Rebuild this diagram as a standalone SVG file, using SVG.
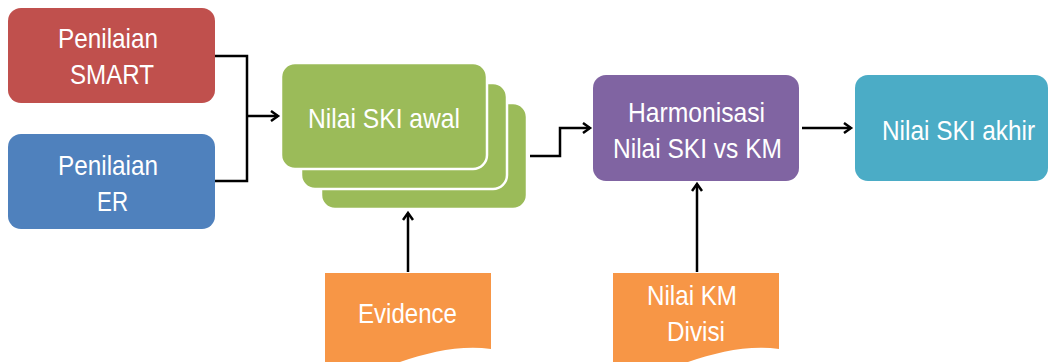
<svg xmlns="http://www.w3.org/2000/svg" width="1050" height="362" viewBox="0 0 1050 362">
<defs>
<style>
.t{font-family:"Liberation Sans",Arial,sans-serif;font-size:28px;fill:#fff;text-anchor:middle}
.c{fill:none;stroke:#000;stroke-width:2.5}
.g{fill:#9BBB59;stroke:#fff;stroke-width:2.5}
.o{fill:#F79646}
</style>
<marker id="ah" markerWidth="12" markerHeight="12" refX="9" refY="6" orient="auto" markerUnits="userSpaceOnUse">
<path d="M2,1 L9,6 L2,11" fill="none" stroke="#000" stroke-width="2.5"/>
</marker>
</defs>
<rect width="1050" height="362" fill="#fff"/>
<g id="smart">
<rect x="8" y="8" width="207" height="95" rx="13" fill="#C0504D"/>
<text class="t" x="108" y="48" textLength="100" lengthAdjust="spacingAndGlyphs">Penilaian</text>
<text class="t" x="112" y="84" textLength="84" lengthAdjust="spacingAndGlyphs">SMART</text>
</g>
<g id="er">
<rect x="8" y="134" width="207" height="95" rx="13" fill="#4F81BD"/>
<text class="t" x="108" y="175" textLength="100" lengthAdjust="spacingAndGlyphs">Penilaian</text>
<text class="t" x="112.5" y="211" textLength="31" lengthAdjust="spacingAndGlyphs">ER</text>
</g>
<g id="ski-awal">
<rect class="g" x="321" y="103" width="206" height="106" rx="14"/>
<rect class="g" x="301" y="83" width="206" height="106" rx="14"/>
<rect class="g" x="281" y="63" width="206" height="106" rx="14"/>
<text class="t" x="384" y="128" textLength="152" lengthAdjust="spacingAndGlyphs">Nilai SKI awal</text>
</g>
<g id="evidence">
<path class="o" d="M325,273 H491 V349 C460,345 430,352 400,362 C375,370 350,375 325,372 Z"/>
<text class="t" x="407.5" y="323" textLength="99" lengthAdjust="spacingAndGlyphs">Evidence</text>
</g>
<g id="harmonisasi">
<rect x="593" y="75" width="206" height="106" rx="13" fill="#8064A2"/>
<text class="t" x="696.5" y="122" textLength="137" lengthAdjust="spacingAndGlyphs">Harmonisasi</text>
<text class="t" x="697.5" y="158" textLength="169" lengthAdjust="spacingAndGlyphs">Nilai SKI vs KM</text>
</g>
<g id="km-divisi">
<path class="o" d="M613,273 H779 V349 C748,345 718,352 688,362 C663,370 638,375 613,372 Z"/>
<text class="t" x="692" y="305" textLength="90" lengthAdjust="spacingAndGlyphs">Nilai KM</text>
<text class="t" x="696" y="341" textLength="58" lengthAdjust="spacingAndGlyphs">Divisi</text>
</g>
<g id="ski-akhir">
<rect x="855" y="75" width="193" height="106" rx="13" fill="#4BACC6"/>
<text class="t" x="958.5" y="140" textLength="153" lengthAdjust="spacingAndGlyphs">Nilai SKI akhir</text>
</g>
<g id="connectors">
<path class="c" d="M215,56 H247 V181 H215"/>
<path class="c" d="M247,116 H278" marker-end="url(#ah)"/>
<path class="c" d="M530,156 H560 V128 H590" marker-end="url(#ah)"/>
<path class="c" d="M408,272 V213" marker-end="url(#ah)"/>
<path class="c" d="M697,272 V184" marker-end="url(#ah)"/>
<path class="c" d="M802,128 H851" marker-end="url(#ah)"/>
</g>
</svg>
